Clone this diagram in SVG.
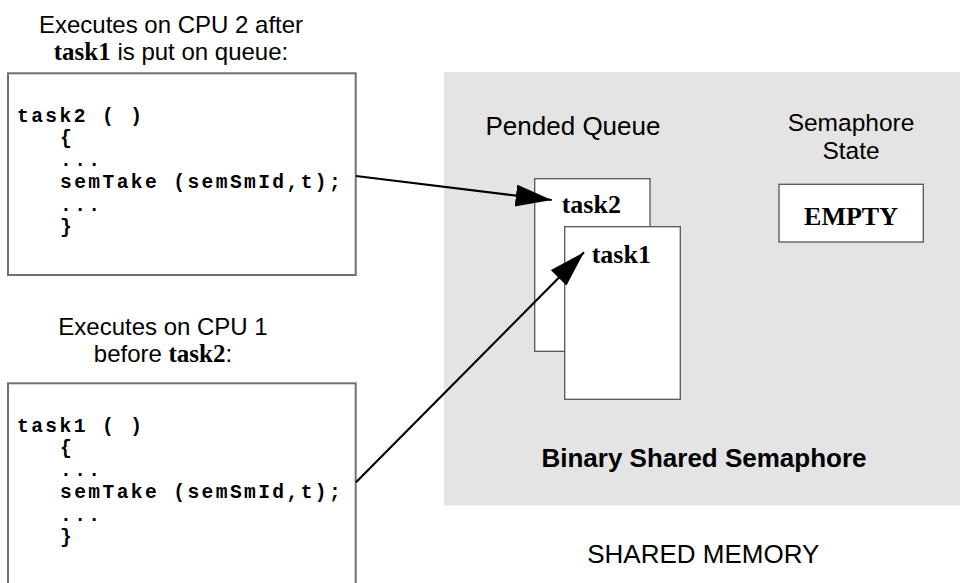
<svg xmlns="http://www.w3.org/2000/svg" width="960" height="583" viewBox="0 0 960 583">
<style>
.sans{font-family:"Liberation Sans",Arial,Helvetica,sans-serif;fill:#000}
.lbl{font-size:24px}
.big{font-size:26px}
.serifb{font-family:"Liberation Serif","Times New Roman",serif;font-weight:bold;fill:#000}
.code{font-family:"Liberation Mono","Courier New",monospace;font-weight:bold;font-size:19.6px;letter-spacing:2.4px;fill:#000}
.codebox{fill:#fff;stroke:#707070;stroke-width:2}
.card{fill:#fff;stroke:#555;stroke-width:1.3}
.conn{stroke:#000;stroke-width:2.2;fill:none}
</style>
<defs>
<marker id="arr" markerUnits="userSpaceOnUse" markerWidth="38" markerHeight="24" refX="36" refY="11" orient="auto">
<path d="M0,0 L36,11 L0,22 z" fill="#000"/>
</marker>
</defs>
<rect width="960" height="583" fill="#fff"/>
<g id="shared-memory">
<rect x="444" y="72" width="516" height="433.5" fill="#e4e4e4"/>
<text class="sans big" x="704" y="466.7" text-anchor="middle" font-weight="bold">Binary Shared Semaphore</text>
<text class="sans big" x="703.3" y="563.3" text-anchor="middle">SHARED MEMORY</text>
</g>
<g id="pended-queue">
<text class="sans big" x="573" y="135" text-anchor="middle">Pended Queue</text>
<rect class="card" x="534.7" y="178.7" width="115.3" height="172.6"/>
<text class="serifb" x="561.7" y="213" font-size="26">task2</text>
<rect class="card" x="564.7" y="226.7" width="115.6" height="172.6"/>
<text class="serifb" x="591.7" y="262.7" font-size="26">task1</text>
</g>
<g id="semaphore-state">
<text class="sans" font-size="24.5" text-anchor="middle"><tspan x="851" y="131">Semaphore</tspan><tspan x="851" y="158.5">State</tspan></text>
<rect class="card" x="779" y="184.3" width="144.3" height="57.7"/>
<text class="serifb" x="851" y="225" font-size="26" text-anchor="middle">EMPTY</text>
</g>
<g id="task2-code">
<text class="sans lbl" x="171" y="33.3" text-anchor="middle"><tspan x="171" y="33.3">Executes on CPU 2 after</tspan><tspan x="171" y="60"><tspan class="serifb" font-size="25">task1</tspan> is put on queue:</tspan></text>
<rect class="codebox" x="8" y="73.3" width="347.7" height="201.7"/>
<text class="code" xml:space="preserve"><tspan x="17" y="121.5">task2 ( )</tspan><tspan x="60" y="143.8">{</tspan><tspan x="60" y="166.1">...</tspan><tspan x="60" y="188.4">semTake (semSmId,t);</tspan><tspan x="60" y="210.7">...</tspan><tspan x="60" y="233">}</tspan></text>
</g>
<g id="task1-code">
<text class="sans lbl" x="163" y="335" text-anchor="middle"><tspan x="163" y="335">Executes on CPU 1</tspan><tspan x="163" y="361.7">before <tspan class="serifb" font-size="25">task2</tspan>:</tspan></text>
<rect class="codebox" x="8" y="383.3" width="347.7" height="220"/>
<text class="code" xml:space="preserve"><tspan x="17" y="431.5">task1 ( )</tspan><tspan x="60" y="453.8">{</tspan><tspan x="60" y="476.1">...</tspan><tspan x="60" y="498.4">semTake (semSmId,t);</tspan><tspan x="60" y="520.7">...</tspan><tspan x="60" y="543">}</tspan></text>
</g>
<g id="connectors">
<line class="conn" x1="356" y1="176" x2="551.7" y2="200" marker-end="url(#arr)"/>
<line class="conn" x1="356" y1="482.3" x2="584" y2="252.3" marker-end="url(#arr)"/>
</g>
</svg>
